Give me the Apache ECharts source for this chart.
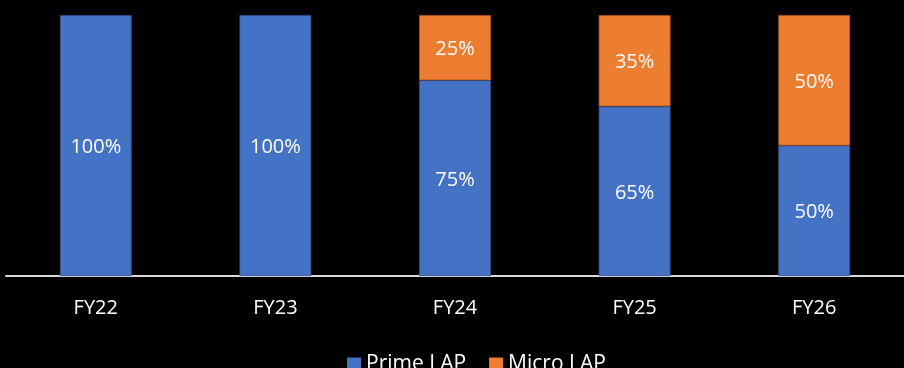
<!DOCTYPE html>
<html><head><meta charset="utf-8">
<script src="https://cdn.jsdelivr.net/npm/echarts@6/dist/echarts.min.js"></script>
<style>html,body{margin:0;padding:0;background:#000;}#c{width:904px;height:368px;}</style>
</head><body><div id="c"></div>
<script>
const categories = ['FY22', 'FY23', 'FY24', 'FY25', 'FY26'];
const primeLAP = [100, 100, 75, 65, 50];
const microLAP = [0, 0, 25, 35, 50];
const seriesNames = ['Prime LAP', 'Micro LAP'];
const FONT = '"Open Sans", "Liberation Sans", sans-serif';

const chart = echarts.init(document.getElementById('c'));
const lbl = {
  show: true, position: 'inside', color: '#ffffff', fontSize: 20, fontFamily: FONT,
  offset: [0, 2],
  formatter: p => p.value + '%'
};
const nz = arr => arr.map(v => (v > 0 ? v : '-'));
chart.setOption({
  backgroundColor: '#000000',
  animation: false,
  grid: { left: 6, right: -3, top: 15, bottom: 92, containLabel: false },
  legend: {
    data: seriesNames, left: 342, top: 349, icon: 'rect', itemWidth: 14, itemHeight: 14,
    itemGap: 23,
    itemStyle: { borderWidth: 0 },
    textStyle: { color: '#ffffff', fontSize: 21, fontFamily: FONT }
  },
  xAxis: {
    type: 'category', data: categories,
    axisLine: { lineStyle: { color: '#d9d9d9', width: 2 } },
    axisTick: { show: false },
    axisLabel: { color: '#ffffff', fontSize: 20, fontFamily: FONT, margin: 22 }
  },
  yAxis: { type: 'value', min: 0, max: 100, show: false, splitLine: { show: false } },
  series: [
    { name: seriesNames[0], type: 'bar', stack: 'a', data: nz(primeLAP), barWidth: '40%',
      itemStyle: { color: '#4472C4', borderColor: '#2F528F', borderWidth: 0.75 }, label: lbl },
    { name: seriesNames[1], type: 'bar', stack: 'a', data: nz(microLAP), barWidth: '40%',
      itemStyle: { color: '#ED7D31', borderColor: '#AE5A21', borderWidth: 0.75 }, label: lbl }
  ]
});
</script></body></html>
